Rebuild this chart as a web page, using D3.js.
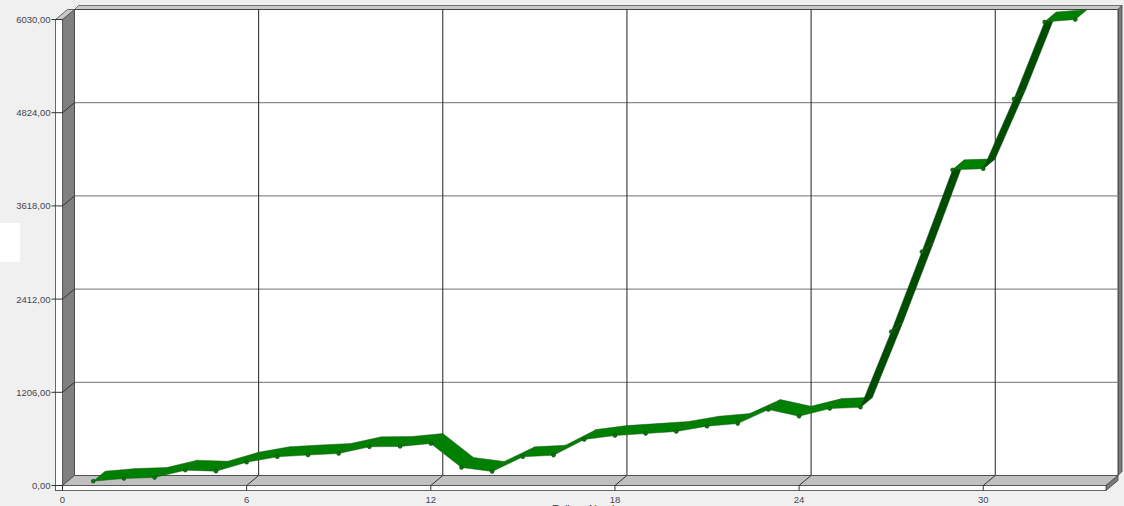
<!DOCTYPE html>
<html>
<head>
<meta charset="utf-8">
<script src="https://cdn.jsdelivr.net/npm/d3@7"></script>
<style>
  html, body { margin: 0; padding: 0; background: #f0f0f0; }
  svg { display: block; }
  text { font-family: "Liberation Sans", Arial, sans-serif; }
</style>
</head>
<body>
<div id="chart"></div>
<script>
// failure number vs cumulative time
const failureNo = [1, 2, 3, 4, 5, 6, 7, 8, 9, 10, 11, 12, 13, 14, 15, 16, 17,
    18, 19, 20, 21, 22, 23, 24, 25, 26, 27, 28, 29, 30, 31, 32, 33];
const failureTime = [56, 90, 103, 198, 185, 301, 371, 394, 414, 500, 505, 543,
    233, 181, 371, 392, 595, 646, 672, 698, 767, 801, 982, 896, 995, 1012,
    1991, 3025, 4085, 4098, 5002, 5998, 6030];
const yTicks = [0, 1206, 2412, 3618, 4824, 6030];
const xTicks = [0, 6, 12, 18, 24, 30];
const xTitle = "Failure Number";

const W = 1124, H = 506;
const DX = 12, DY = -10;   // 3d depth offset
const fmt = d => d3.format(".2f")(d).replace(".", ",");

const x = d3.scaleLinear().domain([0, 34]).range([62.5, 1106]);
const y = d3.scaleLinear().domain([0, 6030]).range([485.5, 19.5]);

const svg = d3.select("#chart").append("svg")
    .attr("width", W).attr("height", H);

const x0 = x(0), x1 = x(34), yb = y(0), yt = y(6030);
const poly = pts => pts.map(p => p.join(",")).join(" ");

// odd white patch at left edge
svg.append("rect").attr("x", 0).attr("y", 223).attr("width", 20).attr("height", 39)
    .attr("fill", "#fff");

// back wall
svg.append("polygon")
    .attr("points", poly([[x1 + DX, yt + DY], [x1 + DX + 4, yt + DY - 4], [x0 + DX + 4, yt + DY - 4], [x0 + DX, yt + DY]]))
    .attr("fill", "#c8c8c8").attr("stroke", "#555").attr("stroke-width", 0.8);
svg.append("polygon")
    .attr("points", poly([[x1 + DX, yt + DY], [x1 + DX + 4, yt + DY - 4], [x1 + DX + 4, yb + DY - 4], [x1 + DX, yb + DY]]))
    .attr("fill", "#7a7a7a").attr("stroke", "#444").attr("stroke-width", 0.8);
svg.append("rect")
    .attr("x", x0 + DX).attr("y", yt + DY)
    .attr("width", x1 - x0).attr("height", yb - yt)
    .attr("fill", "#fff").attr("stroke", "#444").attr("stroke-width", 1);

// horizontal grid on back wall
svg.append("g").selectAll("line")
    .data(yTicks.filter(d => d > 0 && d < 6030))
    .join("line")
    .attr("x1", x0 + DX).attr("x2", x1 + DX)
    .attr("y1", d => y(d) + DY).attr("y2", d => y(d) + DY)
    .attr("stroke", "#8c8c8c").attr("stroke-width", 1.3);

// vertical grid on back wall
svg.append("g").selectAll("line")
    .data(xTicks.filter(d => d > 0))
    .join("line")
    .attr("x1", d => x(d) + DX).attr("x2", d => x(d) + DX)
    .attr("y1", yt + DY).attr("y2", yb + DY)
    .attr("stroke", "#222").attr("stroke-width", 1);

// left wall: inner side, top and front face
svg.append("polygon")
    .attr("points", poly([[x0, yt], [x0 + DX, yt + DY], [x0 + DX, yb + DY], [x0, yb]]))
    .attr("fill", "#808080").attr("stroke", "#444").attr("stroke-width", 0.8);
svg.append("polygon")
    .attr("points", poly([[x0 - 7, yt], [x0, yt], [x0 + DX, yt + DY], [x0 + DX - 7, yt + DY]]))
    .attr("fill", "#c8c8c8").attr("stroke", "#444").attr("stroke-width", 0.8);
svg.append("rect")
    .attr("x", x0 - 7).attr("y", yt).attr("width", 7).attr("height", yb - yt + 5)
    .attr("fill", "#fff").attr("stroke", "#444").attr("stroke-width", 0.8);

// floor: top, right side, front face
svg.append("polygon")
    .attr("points", poly([[x0, yb], [x1, yb], [x1 + DX, yb + DY], [x0 + DX, yb + DY]]))
    .attr("fill", "#c0c0c0").attr("stroke", "#444").attr("stroke-width", 0.8);
svg.append("polygon")
    .attr("points", poly([[x1, yb], [x1 + DX, yb + DY], [x1 + DX, yb + DY + 5], [x1, yb + 5]]))
    .attr("fill", "#7a7a7a").attr("stroke", "#444").attr("stroke-width", 0.8);
svg.append("rect")
    .attr("x", x0 - 7).attr("y", yb).attr("width", x1 - x0 + 7).attr("height", 5)
    .attr("fill", "#fff").attr("stroke", "#444").attr("stroke-width", 0.8);

// y ticks + labels
const yAx = svg.append("g").selectAll("g").data(yTicks).join("g");
yAx.append("line")
    .attr("x1", x0 - 11).attr("x2", x0)
    .attr("y1", d => y(d)).attr("y2", d => y(d))
    .attr("stroke", "#333").attr("stroke-width", 1);
yAx.filter(d => d > 0 && d < 6030).append("line")
    .attr("x1", x0).attr("x2", x0 + DX)
    .attr("y1", d => y(d)).attr("y2", d => y(d) + DY)
    .attr("stroke", "#333").attr("stroke-width", 1);
yAx.append("text")
    .attr("x", x0 - 12).attr("y", d => y(d) + 3.5)
    .attr("text-anchor", "end").attr("font-size", 9.5)
    .attr("fill", "#454550")
    .text(fmt);

// x ticks + labels
const xAx = svg.append("g").selectAll("g").data(xTicks).join("g");
xAx.filter(d => d > 0).append("line")
    .attr("x1", d => x(d)).attr("x2", d => x(d) + DX)
    .attr("y1", yb).attr("y2", yb + DY)
    .attr("stroke", "#333").attr("stroke-width", 1);
xAx.append("line")
    .attr("x1", d => x(d)).attr("x2", d => x(d))
    .attr("y1", yb).attr("y2", yb + 5)
    .attr("stroke", "#333").attr("stroke-width", 1);
xAx.append("text")
    .attr("x", d => x(d)).attr("y", 503)
    .attr("text-anchor", "middle").attr("font-size", 9.5)
    .attr("fill", "#454550")
    .text(d => d);

// axis title, cut by the bottom edge as in the source picture
svg.append("text")
    .attr("x", 590).attr("y", 513)
    .attr("text-anchor", "middle").attr("font-size", 11)
    .attr("fill", "#333")
    .text(xTitle);

// 3d ribbon
const pts = failureNo.map((n, i) => [x(n), y(failureTime[i])]);
const segs = d3.pairs(pts);
svg.append("g").selectAll("polygon")
    .data(segs)
    .join("polygon")
    .attr("points", ([a, b]) => poly([a, b, [b[0] + DX, b[1] + DY], [a[0] + DX, a[1] + DY]]))
    .attr("fill", ([a, b]) => {
        const cross = (b[0] - a[0]) * DY - (b[1] - a[1]) * DX;
        return cross > 0 ? "#004c00" : "#008000";
    })
    .attr("stroke", "#1f4f1f").attr("stroke-width", 0.45)
    .attr("stroke-linejoin", "round");

svg.append("g").selectAll("circle")
    .data(pts)
    .join("circle")
    .attr("cx", d => d[0]).attr("cy", d => d[1]).attr("r", 1.9)
    .attr("fill", "#008000").attr("stroke", "#0d3a0d").attr("stroke-width", 0.6);
</script>
</body>
</html>
